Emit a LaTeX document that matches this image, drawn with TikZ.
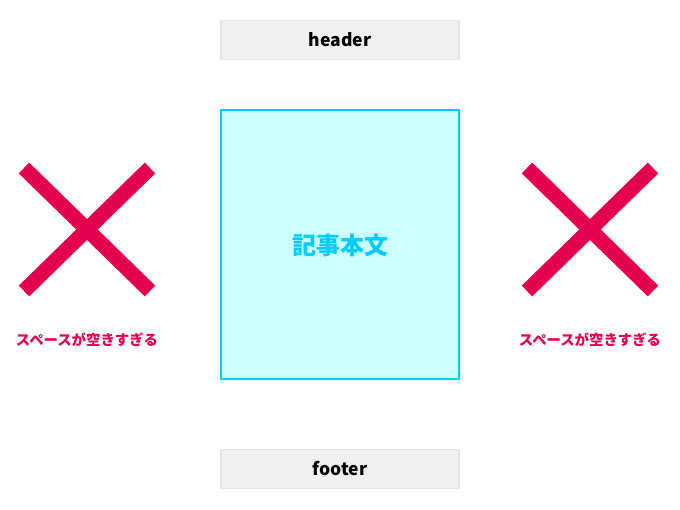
\documentclass[tikz,border=0pt]{standalone}
\usepackage{fontspec}
\setmainfont{Noto Sans CJK JP}[BoldFont={Noto Sans CJK JP Black}]
\usetikzlibrary{positioning, calc}

\definecolor{hai}{HTML}{F0F0F0}
\definecolor{haisen}{HTML}{E4E4E4}
\definecolor{mizu}{HTML}{CCFFFF}
\definecolor{ao}{HTML}{00CCFF}
\definecolor{aka}{HTML}{E4004F}

\begin{document}
\begin{tikzpicture}
  [
  x=1pt, y=-1pt,
  % block
  block/.style = {rectangle,
    draw=haisen, line width=1.5pt, fill=hai,
    minimum height = 39pt,
    minimum width = 238pt,
    font=\bfseries\fontsize{17.5}{17.5}\selectfont},
  % honbun
  honbun/.style = {rectangle,
    draw=ao, line width=2pt, fill=mizu,
    minimum height = 269pt,
    minimum width = 238pt,
    text=ao, font=\bfseries\fontsize{24}{24}\selectfont},
  % batsu
  batsu/.style = {draw=aka, line width=15pt},
  % label
  chui/.style = {text=aka, font=\bfseries\fontsize{14.4}{14.4}\selectfont},
  ]

  \useasboundingbox (0,0) rectangle (680,510);

  % nodes
  \node [block] (header) at (340,40) {header};
  \node [honbun] (main) at (340,245) {記事本文};
  \node [block] (footer) at (340,469) {footer};

  \coordinate (lc) at (87,229.5);
  \coordinate (rc) at (590,229.5);
  \node [chui] (lmsg) at (87,340) {スペースが空きすぎる};
  \node [chui] (rmsg) at (590,340) {スペースが空きすぎる};

  % batsu
  \foreach \c in {lc, rc} {
    \draw [batsu] ($(\c)+(-63,-61.5)$) -- ($(\c)+(63,61.5)$);
    \draw [batsu] ($(\c)+(63,-61.5)$) -- ($(\c)+(-63,61.5)$);
  }

\end{tikzpicture}
\end{document}
